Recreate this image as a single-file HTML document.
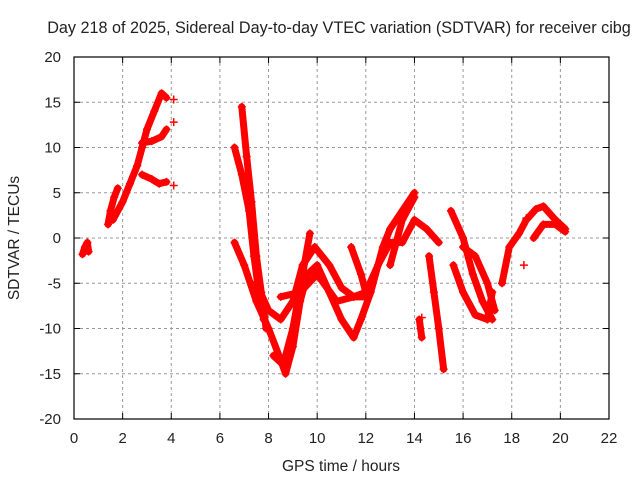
<!DOCTYPE html>
<html><head><meta charset="utf-8"><style>
body{margin:0;background:#fff;font-family:"Liberation Sans",sans-serif}
svg text{font-family:"Liberation Sans",sans-serif;fill:#222}
</style></head><body>
<svg id="chart" width="640" height="480" viewBox="0 0 640 480" xmlns="http://www.w3.org/2000/svg">
<text x="339" y="33" font-size="16.2" text-anchor="middle">Day 218 of 2025, Sidereal Day-to-day VTEC variation (SDTVAR) for receiver cibg</text>
<text x="341" y="471" font-size="15.5" text-anchor="middle">GPS time / hours</text>
<text x="19" y="238" font-size="15.5" text-anchor="middle" transform="rotate(-90 19 238)">SDTVAR / TECUs</text>
<g id="grid"></g>
<g id="series"></g>
<rect x="74" y="57" width="535" height="362" fill="none" stroke="#000" stroke-width="1.2"/>
</svg>
<script>
const xTicks=[0,2,4,6,8,10,12,14,16,18,20,22];
const yTicks=[-20,-15,-10,-5,0,5,10,15,20];
const trackA=[[0.35,-1.8],[0.45,-1],[0.55,-0.5],[0.6,-1.5]];
const trackB=[[1.4,1.5],[1.5,3],[1.65,4.5],[1.8,5.5]];
const trackC=[[1.6,2],[2,4],[2.3,6],[2.6,8],[2.8,10],[3,12],[3.3,14],[3.6,16],[3.8,15.5]];
const trackC2=[[2.8,10.5],[3.2,10.7],[3.6,11.2],[3.8,12]];
const trackC3=[[2.8,7],[3.2,6.5],[3.5,6],[3.8,6.2]];
const trackD=[[6.6,10],[6.9,7],[7.2,3],[7.4,-2],[7.6,-6],[7.8,-9]];
const trackD2=[[6.9,14.5],[7.1,9],[7.3,4],[7.5,-2],[7.7,-6],[7.9,-10]];
const trackE=[[6.6,-0.5],[7,-3],[7.5,-7],[8,-10],[8.5,-13.5],[8.7,-15],[9,-12],[9.3,-7],[9.6,-4],[10,-3],[10.5,-6],[11,-9],[11.5,-11],[11.8,-9],[12.2,-6],[12.7,-1],[13,1],[13.5,3],[14,5]];
const trackF=[[7.5,-5],[8,-8],[8.5,-9],[9,-7],[9.4,-3],[9.9,-1],[10.5,-3],[11,-5.5],[11.5,-6.5],[12,-6],[12.5,-3],[13,-0.5],[13.5,-0.5],[14,2],[14.5,1],[15,-0.5]];
const trackG=[[8.2,-13],[8.6,-14],[9,-10],[9.4,-4],[9.7,0.5]];
const trackH=[[8.5,-6.5],[9.3,-6],[10,-4],[10.8,-7],[11.5,-6.5],[12,-6.5]];
const trackI=[[11.4,-1],[11.8,-4],[12,-6]];
const trackJ=[[13,-3],[13.5,2],[14,4.5]];
const trackK=[[14.2,-9],[14.3,-11]];
const trackL=[[14.6,-2],[14.8,-6],[15,-10],[15.2,-14.5]];
const trackM=[[15.5,3],[16,0],[16.4,-4],[16.8,-7],[17.2,-9]];
const trackN=[[15.6,-3],[16,-6],[16.5,-8.5],[17,-9],[17.2,-6]];
const trackO=[[16,-1],[16.5,-2],[17,-5],[17.3,-8]];
const trackP=[[17.6,-5],[17.9,-1],[18.3,0.5],[18.6,2],[19,3.2],[19.3,3.5],[19.8,2],[20.2,1]];
const trackQ=[[18.9,0],[19.3,1.5],[19.8,1.5],[20.2,0.7]];
const singles=[[4.1,15.3],[4.1,12.8],[4.1,5.8],[18.5,-3],[18.6,2.2],[14.3,-8.8]];
const tracks=[trackA,trackB,trackC,trackC2,trackC3,trackD,trackD2,trackE,trackF,trackG,trackH,trackI,trackJ,trackK,trackL,trackM,trackN,trackO,trackP,trackQ];
const X0=74,X1=609,Y0=419,Y1=57;
const sx=v=>X0+(v-0)/22*(X1-X0);
const sy=v=>Y0-(v+20)/40*(Y0-Y1);
const NS="http://www.w3.org/2000/svg";
const svg=document.getElementById('chart'),grid=document.getElementById('grid'),ser=document.getElementById('series');
function mk(t,a,p){const e=document.createElementNS(NS,t);for(const k in a)e.setAttribute(k,a[k]);p.appendChild(e);return e;}
xTicks.forEach(t=>{const x=sx(t);
 if(t>0&&t<22){const g=mk('line',{x1:x,x2:x,y1:Y1,y2:Y0,stroke:'#999','stroke-dasharray':'3,3'},grid);
 
 }
 const a=mk('line',{x1:x,x2:x,y1:Y0,y2:Y0-6,stroke:'#000'},grid);
 
 
 const b=mk('line',{x1:x,x2:x,y1:Y1,y2:Y1+6,stroke:'#000'},grid);
 
 
 const l=mk('text',{x:x,y:443,'font-size':15,'text-anchor':'middle'},svg);l.textContent=t;
 
 });
yTicks.forEach(t=>{const y=sy(t);
 if(t>-20&&t<20){const g=mk('line',{x1:X0,x2:X1,y1:y,y2:y,stroke:'#999','stroke-dasharray':'3,3'},grid);
 
 }
 const a=mk('line',{x1:X0,x2:X0+6,y1:y,y2:y,stroke:'#000'},grid);
 
 
 const b=mk('line',{x1:X1,x2:X1-6,y1:y,y2:y,stroke:'#000'},grid);
 
 
 const l=mk('text',{x:61,y:y+5,'font-size':15,'text-anchor':'end'},svg);l.textContent=t;
 
 });
function plus(p){const x=sx(p[0]),y=sy(p[1]);
 const m=mk('path',{d:`M${x-4},${y}H${x+4}M${x},${y-4}V${y+4}`,stroke:'#f00','stroke-width':1.5},ser);
 
 }
tracks.forEach(tr=>{
 const pl=mk('polyline',{points:tr.map(p=>sx(p[0])+','+sy(p[1])).join(' '),fill:'none',stroke:'#f00','stroke-width':7,'stroke-linejoin':'round','stroke-linecap':'round'},ser);
 
 
 tr.forEach(plus);});
singles.forEach(plus);
</script>
</body></html>
